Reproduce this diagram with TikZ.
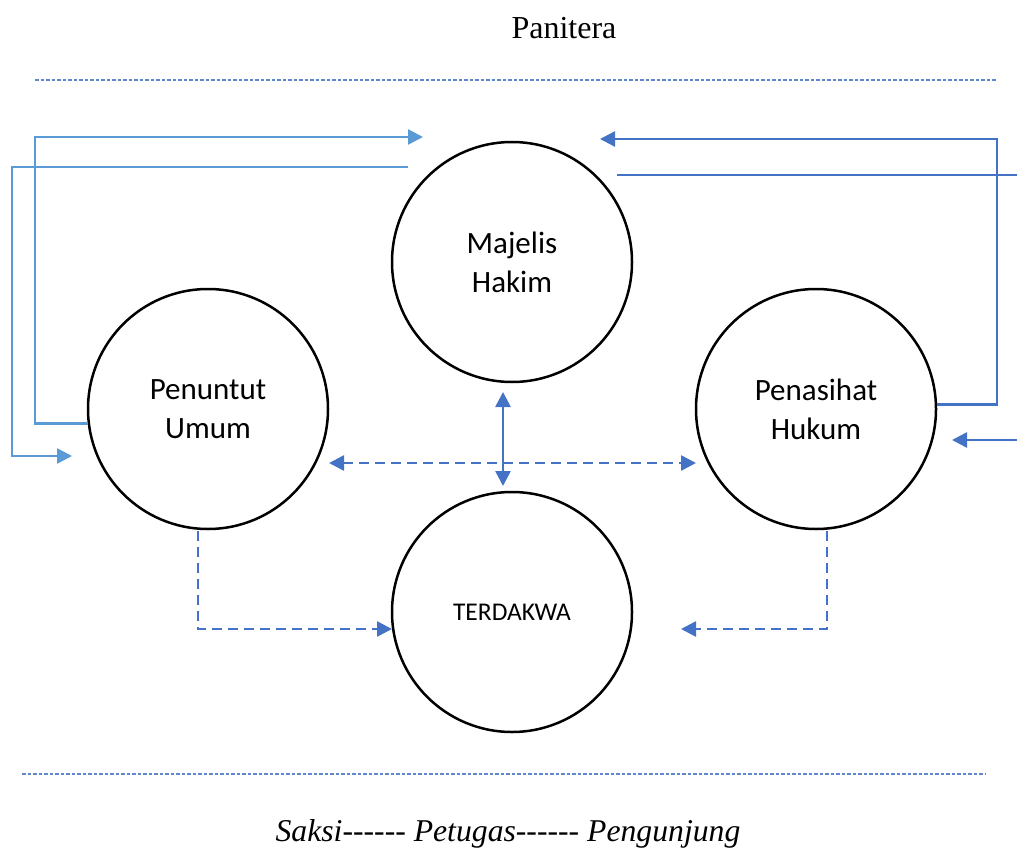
\documentclass[tikz,border=0pt]{standalone}
\usepackage{fontspec}
\setmainfont{Liberation Serif}
\newfontfamily\plainserif{Liberation Serif}[Ligatures=TeXOff]
\newfontfamily\calib{Carlito}
\usetikzlibrary{arrows.meta}
\definecolor{lblue}{HTML}{5B9BD5}
\definecolor{dblue}{HTML}{4472C4}
\tikzset{
  actor/.style={circle,draw=black,line width=2.5pt,minimum size=240pt,inner sep=0pt,align=center,font=\calib\fontsize{31}{39}\selectfont},
  tip/.style={-{Triangle[length=15pt,width=15pt]}},
  tips/.style={{Triangle[length=15pt,width=15pt]}-{Triangle[length=15pt,width=15pt]}},
  lconn/.style={draw=lblue,line width=2.6pt,tip},
  dconn/.style={draw=dblue,line width=2.6pt,tip},
  dashconn/.style={draw=dblue,line width=2.6pt,dash pattern=on 10pt off 6pt},
  sep/.style={draw=dblue!85,line width=1.4pt,dash pattern=on 3.5pt off 2pt},
}
\begin{document}
\begin{tikzpicture}[x=1pt,y=-1pt]
\useasboundingbox (0,0) rectangle (1017,853);
% titles
\node[font=\fontsize{32}{38}\selectfont] (pan) at (564,28) {Panitera};
\node[font=\plainserif\itshape\fontsize{31.7}{38}\selectfont] (sak) at (508,834) {Saksi-{}-{}-{}-{}-{}- Petugas-{}-{}-{}-{}-{}- Pengunjung};
% separator lines
\coordinate (t1) at (35,80);  \coordinate (t2) at (997,80);
\coordinate (b1) at (22,774); \coordinate (b2) at (985,774);
\draw[sep] (t1) -- (t2);
\draw[sep] (b1) -- (b2);
% actors
\node[actor] (mh) at (512,262) {Majelis\\Hakim};
\node[actor] (pu) at (208,409) {Penuntut\\Umum};
\node[actor] (ph) at (816,409) {Penasihat\\Hukum};
\node[actor,font=\calib\fontsize{25.5}{30}\selectfont] (td) at (512,612) {TERDAKWA};
% free ends and corners
\coordinate (xa) at (35,0);
\coordinate (xc) at (997,0);
\coordinate (a1) at (423,137);
\coordinate (b0) at (408,167);
\coordinate (b3) at (72,456);
\coordinate (c1) at (600,139);
\coordinate (d0) at (617,175);
\coordinate (d1) at (1030,175);
\coordinate (e0) at (1030,440);
\coordinate (e1) at (952,440);
\coordinate (v1) at (503,392);
\coordinate (v2) at (503,486);
\coordinate (h1) at (329,463);
\coordinate (h2) at (696,463);
\coordinate (l0) at (198,531);
\coordinate (l1) at (392,629);
\coordinate (r0) at (827,531);
\coordinate (r1) at (681,629);
% light blue connectors (Penuntut Umum side)
\draw[lconn] (pu.187) -- (pu.187 -| xa) -- (xa |- a1) -- (a1);
\draw[lconn] (b0) -- (12,167) -- (12,456) -- (b3);
% dark blue connectors (Penasihat Hukum side)
\draw[dconn] (ph.2.4) -- (ph.2.4 -| xc) -- (xc |- c1) -- (c1);
\draw[draw=dblue,line width=2.6pt] (d0) -- (d1);
\draw[dconn] (e0) -- (e1);
% central arrows
\draw[draw=dblue,line width=2.6pt,tips] (v1) -- (v2);
\draw[dashconn,tips] (h1) -- (h2);
\draw[dashconn,tip] (l0) -- (l0 |- l1) -- (l1);
\draw[dashconn,tip] (r0) -- (r0 |- r1) -- (r1);
\end{tikzpicture}
\end{document}
